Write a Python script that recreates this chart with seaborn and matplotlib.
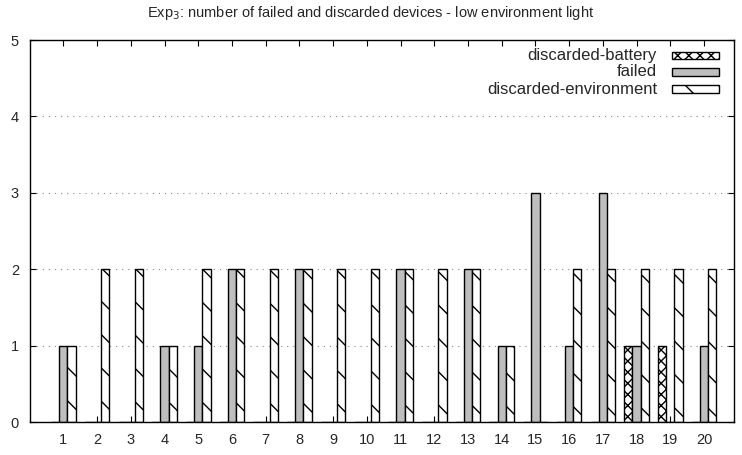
import matplotlib
matplotlib.use("Agg")
import matplotlib.pyplot as plt
import seaborn as sns
import pandas as pd
from matplotlib.patches import Rectangle

groups = [str(i) for i in range(1, 21)]
discarded_battery = [0, 0, 0, 0, 0, 0, 0, 0, 0, 0, 0, 0, 0, 0, 0, 0, 0, 1, 1, 0]
failed = [1, 0, 0, 1, 1, 2, 0, 2, 0, 0, 2, 0, 2, 1, 3, 1, 3, 1, 0, 1]
discarded_environment = [1, 2, 2, 1, 2, 2, 2, 2, 2, 2, 2, 2, 2, 1, 0, 2, 2, 2, 2, 2]
series_names = ["discarded-battery", "failed", "discarded-environment"]
y_ticks = [0, 1, 2, 3, 4, 5]

rows = []
for name, vals in zip(series_names, [discarded_battery, failed, discarded_environment]):
    for g, v in zip(groups, vals):
        rows.append({"device": g, "count": v, "series": name})
df = pd.DataFrame(rows)

sns.set_style("ticks")
plt.rcParams["font.family"] = ["Liberation Sans", "DejaVu Sans"]
plt.rcParams["hatch.linewidth"] = 1.0
plt.rcParams["hatch.color"] = "black"

W, H = 742, 455
L, R, T, B = 30, 734, 40, 422
fig = plt.figure(figsize=(W / 100, H / 100), dpi=100)
ax = fig.add_axes([L / W, 1 - B / H, (R - L) / W, (B - T) / H])

fills = {"discarded-battery": "white", "failed": "#bebebe", "discarded-environment": "white"}
hatches = {"discarded-battery": "xxx", "failed": "", "discarded-environment": "\\"}

sns.barplot(data=df, x="device", y="count", hue="series", order=groups,
            hue_order=series_names, palette=fills, width=0.73, gap=0,
            edgecolor="black", linewidth=1.0, saturation=1, legend=False, ax=ax)

for cont, name in zip(ax.containers, series_names):
    for p in cont.patches:
        p.set_hatch(hatches[name])
        p.set_edgecolor("black")
        p.set_linewidth(1.0)

ax.set_xlim(-0.99, 19.89)
ax.set_ylim(0, 5)
ax.set_yticks(y_ticks)
ax.set_xlabel("")
ax.set_ylabel("")
ax.tick_params(axis="both", direction="in", top=True, right=True, length=4.5,
               width=0.8, labelsize=10.5, color="black", pad=8)
for s in ax.spines.values():
    s.set_visible(True)
    s.set_linewidth(1.0)
    s.set_color("black")
ax.yaxis.grid(True, linestyle=(0, (1, 4.5)), color="#888888", linewidth=0.8)
ax.set_axisbelow(True)

fig.suptitle("Exp$_3$: number of failed and discarded devices - low environment light",
             fontsize=10.5, x=0.5, y=1 - 13 / H, va="center")

# legend (gnuplot-style: text right-aligned, key to the right)
leg_y = [(B - 55.5) / (B - T), (B - 72.0) / (B - T), (B - 89.0) / (B - T)]
hx = (672 - L) / (R - L)
hw = 47 / (R - L)
hh = 7 / (B - T)
tx = (657 - L) / (R - L)
for name, yy in zip(series_names, leg_y):
    ax.text(tx, yy, name, transform=ax.transAxes, ha="right", va="center", fontsize=12)
    r = Rectangle((hx, yy - hh / 2), hw, hh, transform=ax.transAxes,
                  facecolor=fills[name], edgecolor="black", linewidth=1.0,
                  hatch=hatches[name], clip_on=False, zorder=5)
    ax.add_patch(r)

fig.savefig("out.png", dpi=100)
